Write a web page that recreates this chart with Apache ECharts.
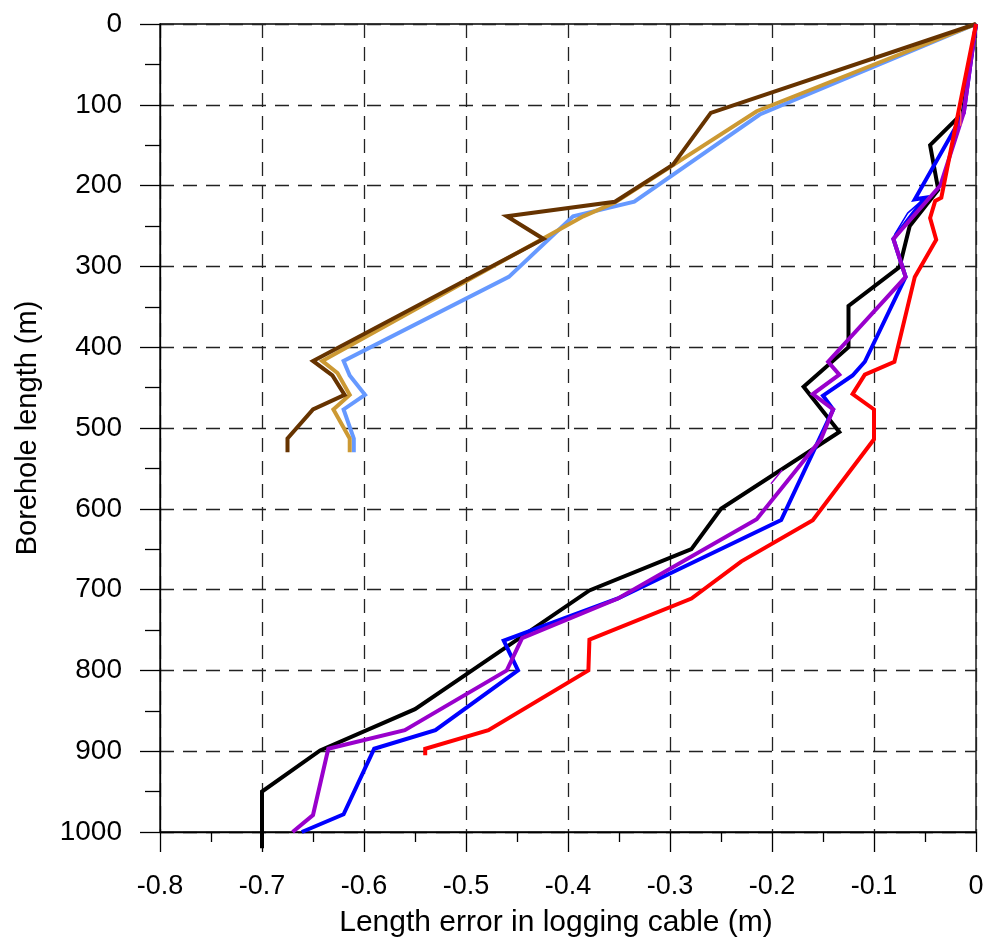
<!DOCTYPE html>
<html>
<head>
<meta charset="utf-8">
<script src="https://cdn.jsdelivr.net/npm/echarts@6/dist/echarts.min.js"></script>
<style>html,body{margin:0;padding:0;background:#fff;}#c{width:987px;height:943px;}</style>
</head>
<body>
<div id="c"></div>
<script>
// ---- data (length error in m, borehole length in m) ----
const brownErr   = [0, -0.260, -0.297, -0.354, -0.460, -0.424, -0.650, -0.631, -0.619, -0.650, -0.675, -0.675];
const brownDepth = [0, 110, 174, 220, 238, 266, 417, 435, 459, 477, 513, 530];

const tanErr   = [0, -0.215, -0.354, -0.385, -0.641, -0.626, -0.614, -0.630, -0.614, -0.614];
const tanDepth = [0, 108, 221, 238, 417, 432, 459, 477, 513, 530];

const lightBlueErr   = [0, -0.212, -0.335, -0.395, -0.458, -0.620, -0.614, -0.599, -0.620, -0.610, -0.610];
const lightBlueDepth = [0, 112, 220, 238, 313, 417, 435, 459, 477, 513, 530];

const blackErr   = [0, -0.013, -0.045, -0.037, -0.065, -0.075, -0.125, -0.125, -0.169, -0.134, -0.250, -0.279, -0.379, -0.494, -0.550, -0.643, -0.700, -0.700];
const blackDepth = [0, 110, 150, 205, 250, 301, 349, 400, 449, 505, 600, 650, 701, 800, 848, 899, 950, 1020];

const blueErr   = [0, -0.012, -0.060, -0.050, -0.081, -0.069, -0.109, -0.121, -0.150, -0.140, -0.191, -0.351, -0.463, -0.449, -0.530, -0.590, -0.620, -0.661];
const blueDepth = [0, 110, 217, 215, 266, 313, 418, 435, 460, 477, 614, 711, 763, 800, 874, 897, 978, 1000];

const purpleErr   = [0, -0.012, -0.035, -0.081, -0.069, -0.145, -0.134, -0.160, -0.140, -0.152, -0.215, -0.351, -0.445, -0.460, -0.560, -0.635, -0.650, -0.670];
const purpleDepth = [0, 110, 200, 266, 313, 418, 434, 458, 477, 514, 613, 711, 760, 800, 874, 897, 979, 1000];

const redErr   = [0, -0.034, -0.040, -0.045, -0.039, -0.060, -0.080, -0.109, -0.121, -0.100, -0.100, -0.160, -0.230, -0.279, -0.379, -0.380, -0.478, -0.540, -0.540];
const redDepth = [0, 215, 219, 240, 267, 313, 418, 434, 458, 477, 514, 614, 665, 711, 762, 800, 874, 897, 905];

const thinBlueErr   = [-0.050, -0.067, -0.080];
const thinBlueDepth = [215, 234, 261];
const thinPurpleErr   = [-0.190, -0.201];
const thinPurpleDepth = [552, 569];
const thinRedErr   = [-0.015, -0.015];
const thinRedDepth = [108, 126];

function pairs(xs, ys){ return xs.map((x,i)=>[x, ys[i]]); }

function line(name, xs, ys, color, w){
  return {
    name: name, type: 'line', data: pairs(xs, ys),
    symbol: 'none', showSymbol: false, clip: false, silent: true,
    lineStyle: { color: color, width: w, cap: 'butt', join: 'miter' },
    animation: false
  };
}

const chart = echarts.init(document.getElementById('c'), null, {renderer: 'canvas'});
const gridDash = { color: '#222', width: 1.3, type: [14, 9] };
chart.setOption({
  animation: false,
  backgroundColor: '#fff',
  grid: { left: 160, right: 11, top: 24, bottom: 102, show: true, borderColor: '#000', borderWidth: 1.3, backgroundColor: 'transparent' },
  xAxis: {
    type: 'value', min: -0.8, max: 0, interval: 0.1,
    name: 'Length error in logging cable (m)', nameLocation: 'middle', nameGap: 76,
    nameTextStyle: { fontFamily: 'Liberation Sans', fontSize: 30, color: '#000', padding: [0, 24, 0, 0] },
    axisLine: { show: true, onZero: false, lineStyle: { color: '#000', width: 1.3 } },
    axisTick: { show: true, inside: false, length: 20, lineStyle: { color: '#000', width: 1.3 } },
    minorTick: { show: true, splitNumber: 2, length: 10, lineStyle: { color: '#000', width: 1.3 } },
    axisLabel: { margin: 41, fontFamily: 'Liberation Sans', fontSize: 27, color: '#000' },
    splitLine: { show: true, lineStyle: gridDash }
  },
  yAxis: {
    type: 'value', inverse: true, min: 0, max: 1000, interval: 100,
    name: 'Borehole length (m)', nameLocation: 'middle', nameGap: 118, nameRotate: 90,
    nameTextStyle: { fontFamily: 'Liberation Sans', fontSize: 29, color: '#000' },
    axisLine: { show: true, onZero: false, lineStyle: { color: '#000', width: 1.3 } },
    axisTick: { show: true, inside: false, length: 20, lineStyle: { color: '#000', width: 1.3 } },
    minorTick: { show: true, splitNumber: 2, length: 15, lineStyle: { color: '#000', width: 1.3 } },
    axisLabel: { margin: 38, fontFamily: 'Liberation Sans', fontSize: 28, color: '#000', formatter: function(v){ return String(v); } },
    splitLine: { show: true, lineStyle: gridDash }
  },
  series: [
    line('lightblue', lightBlueErr, lightBlueDepth, '#6699FF', 4),
    line('tan', tanErr, tanDepth, '#CC9933', 4),
    line('brown', brownErr, brownDepth, '#663300', 4),
    line('black', blackErr, blackDepth, '#000000', 4),
    line('blue', blueErr, blueDepth, '#0000FF', 4),
    line('thinblue', thinBlueErr, thinBlueDepth, '#0000FF', 1.5),
    line('purple', purpleErr, purpleDepth, '#9900CC', 4),
    line('thinpurple', thinPurpleErr, thinPurpleDepth, '#9900CC', 1.5),
    line('red', redErr, redDepth, '#FF0000', 4),
    line('thinred', thinRedErr, thinRedDepth, '#FF6666', 1.5)
  ]
});
</script>
</body>
</html>
